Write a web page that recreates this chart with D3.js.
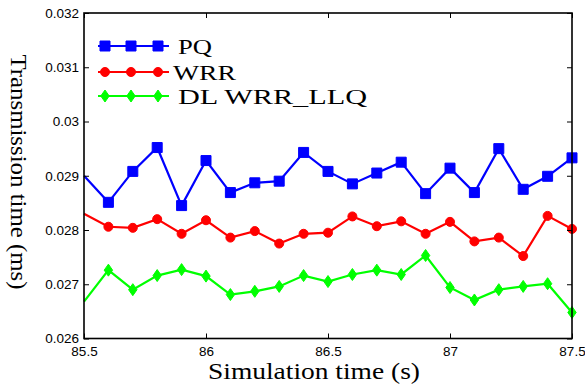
<!DOCTYPE html>
<html>
<head>
<meta charset="utf-8">
<script src="https://cdn.jsdelivr.net/npm/d3@7"></script>
<style>
  html, body { margin: 0; padding: 0; background: #fff; }
  svg { display: block; }
</style>
</head>
<body>
<svg id="chart" width="585" height="386"></svg>
<script>
const times = [85.5,85.6,85.7,85.8,85.9,86.0,86.1,86.2,86.3,86.4,86.5,86.6,86.7,86.8,86.9,87.0,87.1,87.2,87.3,87.4,87.5];
const pqValues = [0.02900,0.02851,0.02908,0.02952,0.02845,0.02928,0.02869,0.02887,0.02890,0.02943,0.02908,0.02885,0.02905,0.02925,0.02867,0.02914,0.02869,0.02950,0.02875,0.02899,0.02933];
const wrrValues = [0.02830,0.02806,0.02804,0.02820,0.02793,0.02818,0.02786,0.02798,0.02775,0.02793,0.02795,0.02825,0.02807,0.02816,0.02793,0.02815,0.02779,0.02786,0.02752,0.02826,0.02802];
const llqValues = [0.02668,0.02726,0.02690,0.02716,0.02727,0.02715,0.02681,0.02687,0.02696,0.02716,0.02705,0.02718,0.02726,0.02718,0.02753,0.02694,0.02671,0.02690,0.02696,0.02701,0.02648];
const seriesNames = ["PQ","WRR","DL WRR_LLQ"];
const xTicks = [85.5,86,86.5,87,87.5];
const xTickLabels = ["85.5","86","86.5","87","87.5"];
const yTicks = [0.026,0.027,0.028,0.029,0.030,0.031,0.032];
const yTickLabels = ["0.026","0.027","0.028","0.029","0.03","0.031","0.032"];
const xTitle = "Simulation time (s)";
const yTitle = "Transmission time (ms)";

const colors = ["#0000ff","#ff0000","#00ff00"];
const markers = ["square","circle","diamond"];
const seriesValues = [pqValues, wrrValues, llqValues];

const L = 84, R = 572, T = 13, B = 338.5;
const svg = d3.select("#chart");
const x = d3.scaleLinear().domain([85.5, 87.5]).range([L, R]);
const y = d3.scaleLinear().domain([0.026, 0.032]).range([B, T]);

function markerPath(type) {
  if (type === "square") return d3.symbol(d3.symbolSquare, 100)();
  if (type === "circle") return d3.symbol(d3.symbolCircle, 64)();
  return "M0,-6L4.2,0L0,6L-4.2,0Z";
}

// series
const line = d3.line().x(d => x(d.t)).y(d => y(d.v));
seriesValues.forEach((vals, i) => {
  const data = times.map((t, j) => ({t, v: vals[j]}));
  svg.append("path").datum(data)
    .attr("fill","none").attr("stroke",colors[i]).attr("stroke-width",2.2)
    .attr("stroke-linejoin","miter").attr("d", line);
  svg.append("g").selectAll("path").data(data.filter(d => d.t > 85.5)).join("path")
    .attr("d", markerPath(markers[i]))
    .attr("transform", d => `translate(${x(d.t)},${y(d.v)})`)
    .attr("fill", colors[i]).attr("stroke", colors[i]).attr("stroke-width", 1);
});

// axes
const fmtX = (d) => xTickLabels[xTicks.indexOf(d)];
const fmtY = (d) => yTickLabels[yTicks.findIndex(v => Math.abs(v - d) < 1e-9)];
const axStyle = g => {
  g.select(".domain").remove();
  g.selectAll("line").attr("stroke","#000").attr("stroke-width",1);
  g.selectAll("text").attr("fill","#000").attr("font-family","'Liberation Sans', Arial, sans-serif").attr("font-size","13.5px");
};
svg.append("g").attr("transform",`translate(0,${B})`)
  .call(d3.axisBottom(x).tickValues(xTicks).tickFormat(fmtX).tickSizeInner(-5).tickSizeOuter(0).tickPadding(8))
  .call(axStyle);
svg.append("g").attr("transform",`translate(0,${T})`)
  .call(d3.axisTop(x).tickValues(xTicks).tickFormat("").tickSizeInner(-5).tickSizeOuter(0))
  .call(axStyle);
svg.append("g").attr("transform",`translate(${L},0)`)
  .call(d3.axisLeft(y).tickValues(yTicks).tickFormat(fmtY).tickSizeInner(-5).tickSizeOuter(0).tickPadding(5))
  .call(axStyle);
svg.append("g").attr("transform",`translate(${R},0)`)
  .call(d3.axisRight(y).tickValues(yTicks).tickFormat("").tickSizeInner(-5).tickSizeOuter(0))
  .call(axStyle);

svg.append("rect").attr("x",L).attr("y",T).attr("width",R-L).attr("height",B-T)
  .attr("fill","none").attr("stroke","#000").attr("stroke-width",1.6);

// titles
const serif = "'Liberation Serif','Times New Roman',serif";
svg.append("text").attr("x",314).attr("y",379).attr("text-anchor","middle")
  .attr("font-family",serif).attr("font-size","24px")
  .attr("textLength",212).attr("lengthAdjust","spacingAndGlyphs").text(xTitle);
svg.append("text").attr("transform","translate(11,172) rotate(90)").attr("text-anchor","middle")
  .attr("font-family",serif).attr("font-size","24px")
  .attr("textLength",235).attr("lengthAdjust","spacingAndGlyphs").text(yTitle);

// legend
const legY = [46, 72, 96];
const legTextX = [178, 173, 178];
const legTextW = [34, 63, 189];
const legMarkX = [105, 131, 158];
seriesNames.forEach((name, i) => {
  const g = svg.append("g");
  g.append("line").attr("x1",98).attr("x2",169).attr("y1",legY[i]).attr("y2",legY[i])
    .attr("stroke",colors[i]).attr("stroke-width",2.2);
  legMarkX.forEach(mx => g.append("path").attr("d",markerPath(markers[i]))
    .attr("transform",`translate(${mx},${legY[i]})`).attr("fill",colors[i]).attr("stroke",colors[i]));
  g.append("text").attr("x",legTextX[i]).attr("y",legY[i]+8)
    .attr("font-family",serif).attr("font-size","22px")
    .attr("textLength",legTextW[i]).attr("lengthAdjust","spacingAndGlyphs").text(name);
});
</script>
</body>
</html>
